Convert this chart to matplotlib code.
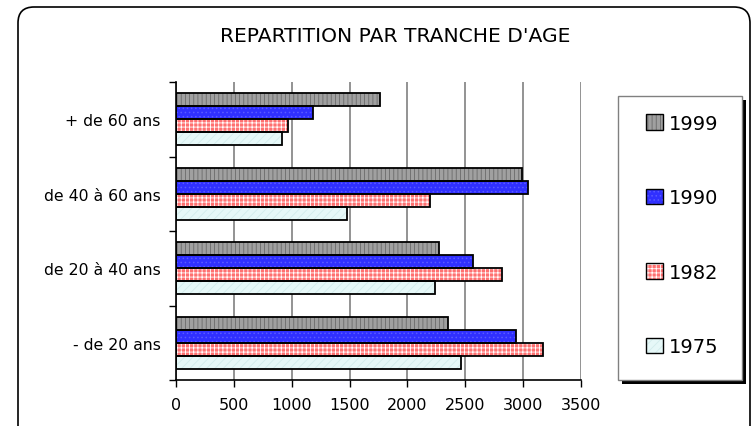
import numpy as np
import matplotlib.pyplot as plt
from matplotlib.patches import FancyBboxPatch, Rectangle, Patch
from matplotlib.transforms import IdentityTransform
from matplotlib.legend_handler import HandlerTuple

# data
categories = ["- de 20 ans", "de 20 à 40 ans", "de 40 à 60 ans", "+ de 60 ans"]
years = ["1999", "1990", "1982", "1975"]
v1999 = [2350, 2275, 2990, 1760]
v1990 = [2940, 2565, 3045, 1180]
v1982 = [3170, 2815, 2195, 965]
v1975 = [2465, 2235, 1475, 915]
series = [v1999, v1990, v1982, v1975]

# face colour, hatch colour, hatch pattern
styles = [("#a0a0a0", "#6a6a6a", "||||"),
          ("#3030ff", "#5a5aff", "...."),
          ("#ff7070", "#ffffff", "++++"),
          ("#e6f8f8", "#d2ecec", "////")]

W, H = 753, 427
plt.rcParams["hatch.linewidth"] = 0.6
fig = plt.figure(figsize=(W / 100, H / 100), dpi=100)

# outer rounded frame (pixel coords)
frame = FancyBboxPatch((18, -20), 732, H - 8 + 20,
                       boxstyle="round,pad=0,rounding_size=16",
                       transform=IdentityTransform(), fill=False,
                       edgecolor="black", linewidth=1.2)
fig.patches.append(frame)

ax = fig.add_axes([176 / W, 1 - 381 / H, (581 - 176) / W, (381 - 83) / H])

y = np.arange(len(categories))
h = 0.175
offsets = [1.5 * h, 0.5 * h, -0.5 * h, -1.5 * h]
for vals, (fc, hc, hatch), off in zip(series, styles, offsets):
    ax.barh(y + off, vals, height=h, color=fc, edgecolor=hc, hatch=hatch,
            linewidth=0, zorder=2)
    ax.barh(y + off, vals, height=h, fill=False, edgecolor="black",
            linewidth=1.3, zorder=3)

ax.set_xlim(0, 3500)
ax.set_ylim(-0.5, 3.5)
ax.set_xticks(np.arange(0, 3501, 500))
ax.set_yticks(np.arange(-0.5, 3.6, 1))
ax.set_yticklabels([])
ax.set_yticks(y, minor=True)
ax.set_yticklabels(categories, minor=True, fontsize=11.3)
ax.tick_params(axis="y", which="minor", length=0, pad=11)
ax.tick_params(axis="y", which="major", length=5, width=1, direction="out")
ax.tick_params(axis="x", length=5, width=1, direction="out", labelsize=11.5, pad=7)
ax.grid(axis="x", color="#808080", linewidth=1.2, zorder=1)
ax.set_axisbelow(True)
for s in ["top", "right"]:
    ax.spines[s].set_visible(False)
for s in ["left", "bottom"]:
    ax.spines[s].set_linewidth(1.2)

fig.text(395 / W, 1 - 37 / H, "REPARTITION PAR TRANCHE D'AGE",
         ha="center", va="center", fontsize=14.6)

# legend box with shadow
lx0, lx1, ly0, ly1 = 618, 742, 97, 381
fig.patches.append(Rectangle((lx0 + 4, H - ly1 - 4), lx1 - lx0, ly1 - ly0,
                             transform=IdentityTransform(), facecolor="black",
                             edgecolor="none"))
fig.patches.append(Rectangle((lx0, H - ly1), lx1 - lx0, ly1 - ly0,
                             transform=IdentityTransform(), facecolor="white",
                             edgecolor="#808080", linewidth=1))
handles = [(Patch(facecolor=fc, edgecolor=hc, hatch=hatch, linewidth=0),
            Patch(fill=False, edgecolor="black", linewidth=1))
           for fc, hc, hatch in styles]
fig.legend(handles, years, loc="center",
           bbox_to_anchor=((lx0 + lx1) / 2 / W + 0.003, 1 - (ly0 + ly1 - 6) / 2 / H),
           frameon=False, fontsize=14, labelspacing=2.85,
           handlelength=0.85, handleheight=0.85, handletextpad=0.3,
           handler_map={tuple: HandlerTuple(ndivide=1, pad=0)})

fig.savefig("out.png", dpi=100)
